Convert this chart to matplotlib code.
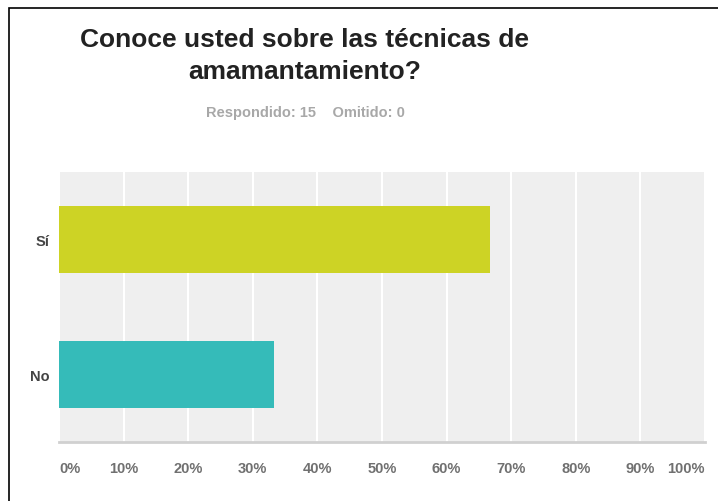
import matplotlib.pyplot as plt
from matplotlib.patches import Rectangle

# survey answers
categories = ["Sí", "No"]
percentages = [66.67, 33.33]
bar_colors = ["#cdd325", "#35bbb9"]
x_ticks = [0, 10, 20, 30, 40, 50, 60, 70, 80, 90, 100]
x_tick_labels = ["0%", "10%", "20%", "30%", "40%", "50%", "60%", "70%", "80%", "90%", "100%"]

title = "Conoce usted sobre las técnicas de\namamantamiento?"
subtitle = "Respondido: 15    Omitido: 0"

plt.rcParams['font.family'] = ['Liberation Sans', 'DejaVu Sans']

fig = plt.figure(figsize=(7.18, 5.02), dpi=100)
ax = fig.add_axes([59 / 718, 59 / 502, 646 / 718, 270 / 502])

ax.set_facecolor("#efefef")
ypos = list(range(len(categories)))
ax.barh(ypos, percentages, height=0.5, color=bar_colors, zorder=3)

ax.set_xlim(0, 100)
ax.set_ylim(1.5, -0.5)
ax.set_xticks(x_ticks)
ax.set_xticklabels(x_tick_labels)
ax.grid(axis="x", color="white", linewidth=1.5, zorder=1)
ax.set_axisbelow(True)

ax.set_yticks(ypos)
ax.set_yticklabels(categories)
ax.tick_params(axis="y", length=0, pad=7, labelsize=10.5, labelcolor="#444444")
ax.tick_params(axis="x", length=0, pad=14, labelsize=10.5, labelcolor="#707070")
for lbl in ax.get_yticklabels():
    lbl.set_fontweight("bold")
for i, lbl in enumerate(ax.get_xticklabels()):
    lbl.set_fontweight("bold")
    if i == 0:
        lbl.set_ha("left")
    elif i == len(x_ticks) - 1:
        lbl.set_ha("right")

for side in ["top", "right", "left"]:
    ax.spines[side].set_visible(False)
ax.spines["bottom"].set_color("#d0d0d0")
ax.spines["bottom"].set_linewidth(2)

fig.text(305 / 718, 1 - 56 / 502, title, ha="center", va="center",
         fontsize=19, fontweight="bold", color="#222222", linespacing=1.45)
fig.text(305 / 718, 1 - 113 / 502, subtitle, ha="center", va="center",
         fontsize=10.5, fontweight="bold", color="#a8a8a8")

# frame around the screenshot
fig.patches.append(Rectangle((9 / 718, -0.1), 1.2, 1 - 9 / 502 + 0.1,
                             transform=fig.transFigure, fill=False,
                             edgecolor="black", linewidth=1.2))

fig.savefig("out.png", dpi=100)
